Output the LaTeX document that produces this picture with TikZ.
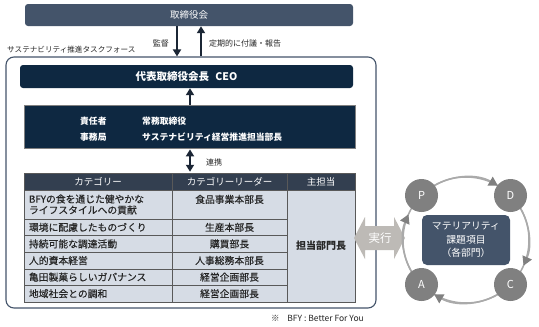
\documentclass[tikz,border=0pt]{standalone}
\usepackage{fontspec}
\setmainfont{Noto Sans CJK JP}
\newfontfamily\medf{Noto Sans CJK JP}[FakeBold=0.35]
\usetikzlibrary{arrows.meta,calc}
\definecolor{board}{HTML}{44546A}
\definecolor{navy}{HTML}{0E2841}
\definecolor{hdr}{HTML}{333F50}
\definecolor{rowbg}{HTML}{D6DCE5}
\definecolor{tline}{HTML}{595959}
\definecolor{ink}{HTML}{262626}
\definecolor{arrowdk}{HTML}{1B2635}
\definecolor{pgray}{HTML}{808080}
\definecolor{ringc}{HTML}{AAAAAA}
\definecolor{execc}{HTML}{BDBAB6}
\newcommand\myfs[2]{\fontsize{#1}{#2}\selectfont}
\begin{document}
\begin{tikzpicture}[x=1pt,y=-1pt,
  box/.style={rectangle, inner sep=0pt, text=white},
  cell/.style={rectangle, draw=tline, line width=0.5pt, fill=rowbg, inner sep=0pt, text=ink, font=\medf\myfs{9.8}{11}},
  hcell/.style={cell, fill=hdr, text=white, font=\myfs{9.5}{11}},
  lcell/.style={cell, text width=138pt, inner xsep=5pt, align=left, minimum width=148pt},
  ccell/.style={cell, align=center, minimum width=115pt},
  darr/.style={draw=arrowdk, line width=1.8pt, -{Triangle[length=7pt,width=8pt]}},
  lbl/.style={inner sep=0pt, text=ink, font=\myfs{8}{10}},
  wtxt/.style={inner sep=0pt, text=white, font=\bfseries\myfs{8.8}{10}},
  pdc/.style={circle, fill=pgray, minimum size=33pt, inner sep=0pt, text=white, font=\myfs{11}{12}},
  ringst/.style={draw=ringc, line width=1.5pt, -{Triangle[length=9pt,width=10pt,color=pgray]}}
]
\useasboundingbox (0,0) rectangle (539,327);
\fill[white] (0,0) rectangle (539,327);

% task force frame
\node[draw=board, line width=1.1pt, rounded corners=8pt, minimum width=370pt, minimum height=251pt, inner sep=0pt] (tf) at (191,182.5) {};
\node[anchor=west, inner sep=0pt, text=ink, font=\myfs{7.6}{9}] (tfl) at (7,50) {サステナビリティ推進タスクフォース};

% board
\node[box, fill=board, rounded corners=3pt, minimum width=328pt, minimum height=22pt, font=\myfs{9.5}{11}] (brd) at (189,15) {取締役会};

\coordinate (ax1) at (177,0);
\coordinate (ax2) at (201,0);
\coordinate (ax3) at (190,0);
\draw[darr] (brd.south -| ax1) -- (tf.north -| ax1);
\draw[darr] (tf.north -| ax2) -- (brd.south -| ax2);
\node[lbl, anchor=east] (lb1) at (169,43) {監督};
\node[lbl, anchor=west] (lb2) at (209,43) {定期的に付議・報告};

% CEO
\node[box, fill=navy, rounded corners=3pt, minimum width=333pt, minimum height=23pt, font=\bfseries\myfs{10.5}{12}] (ceo) at (186.5,76.5) {代表取締役会長\hspace{0.6em}CEO};

% responsible box
\node[box, fill=navy, draw=pgray, line width=0.8pt, minimum width=331pt, minimum height=43pt] (resp) at (189.5,126.5) {};
\node[wtxt, anchor=west] (rl1) at (80,121) {責任者};
\node[wtxt, anchor=west] (rv1) at (142,121) {常務取締役};
\node[wtxt, anchor=west] (rl2) at (80,137) {事務局};
\node[wtxt, anchor=west] (rv2) at (142,137) {サステナビリティ経営推進担当部長};

\draw[darr] (resp.north -| ax3) -- (ceo.south -| ax3);

% table
\node[hcell, minimum width=148pt, minimum height=17pt] (h1) at (98,181.5) {カテゴリー};
\node[hcell, minimum width=115pt, minimum height=17pt] (h2) at (229.5,181.5) {カテゴリーリーダー};
\node[hcell, minimum width=68pt, minimum height=17pt] (h3) at (321,181.5) {主担当};

\draw[darr, {Triangle[length=7pt,width=8pt]}-{Triangle[length=7pt,width=8pt]}, shorten <=1pt, shorten >=1pt] (resp.south -| ax3) -- (h2.north -| ax3);
\node[lbl, anchor=west] (lb3) at (206,162) {連携};

\node[lcell, minimum height=29pt] (c1) at (98,204.5) {BFYの食を通じた健やかな\\ライフスタイルへの貢献};
\node[lcell, minimum height=16.6pt] (c2) at (98,227.3) {環境に配慮したものづくり};
\node[lcell, minimum height=16.6pt] (c3) at (98,243.9) {持続可能な調達活動};
\node[lcell, minimum height=16.6pt] (c4) at (98,260.5) {人的資本経営};
\node[lcell, minimum height=16.6pt] (c5) at (98,277.1) {亀田製菓らしいガバナンス};
\node[lcell, minimum height=16.6pt] (c6) at (98,293.7) {地域社会との調和};

\node[ccell, minimum height=29pt] (d1) at (229.5,204.5) {食品事業本部長\\\mbox{}};
\node[ccell, minimum height=16.6pt] (d2) at (229.5,227.3) {生産本部長};
\node[ccell, minimum height=16.6pt] (d3) at (229.5,243.9) {購買部長};
\node[ccell, minimum height=16.6pt] (d4) at (229.5,260.5) {人事総務本部長};
\node[ccell, minimum height=16.6pt] (d5) at (229.5,277.1) {経営企画部長};
\node[ccell, minimum height=16.6pt] (d6) at (229.5,293.7) {経営企画部長};

\node[cell, minimum width=68pt, minimum height=112pt, font=\bfseries\myfs{10}{11}] (e1) at (321,246) {担当部門長};

% execute arrow
\fill[execc] (354,238) -- (365,217) -- (365,226) -- (394,226) -- (394,217) -- (405,238) -- (394,259) -- (394,250) -- (365,250) -- (365,259) -- cycle;
\node[inner sep=0pt, text=white, font=\myfs{11.5}{13}] (exe) at (380,238) {実行};

% PDCA
\coordinate (pc) at (466,240);
\draw[draw=ringc, line width=1.5pt] (pc) circle[radius=63];
\draw[ringst] (pc) ++(239.6:63) arc[start angle=239.6, end angle=300.4, radius=63];
\draw[ringst] (pc) ++(-30.4:63) arc[start angle=-30.4, end angle=24, radius=63];
\draw[ringst] (pc) ++(59.6:63) arc[start angle=59.6, end angle=120.4, radius=63];
\draw[ringst] (pc) ++(149.6:63) arc[start angle=149.6, end angle=204, radius=63];
\node[pdc] (P) at (421.5,195.5) {P};
\node[pdc] (D) at (510.5,195.5) {D};
\node[pdc] (C) at (510.5,284.5) {C};
\node[pdc] (A) at (421.5,284.5) {A};
\node[box, fill=board, rounded corners=5pt, minimum width=88pt, minimum height=50pt, align=center, font=\myfs{9.8}{13.5}] (mat) at (pc) {マテリアリティ\\課題項目\\（各部門）};

% footnote
\node[anchor=west, inner sep=0pt, text=ink, font=\myfs{8.5}{10}] (fn) at (271,318) {※\hspace{0.9em}BFY : Better For You};
\end{tikzpicture}
\end{document}
